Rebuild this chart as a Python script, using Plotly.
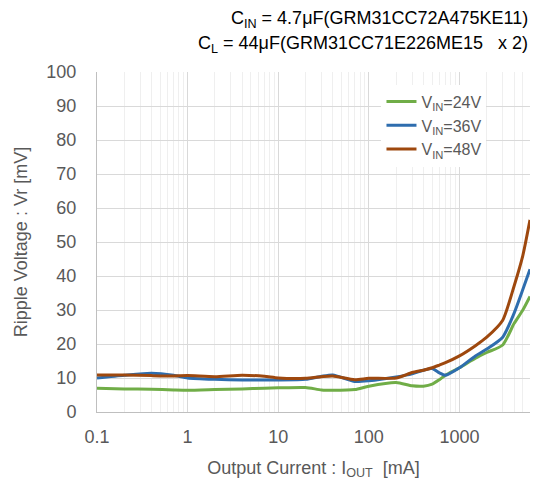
import plotly.graph_objects as go
import numpy as np

x_vals = [0.1, 0.2, 0.4, 0.7, 1, 2, 4, 7, 10, 20, 30, 40, 70, 100, 200, 300, 400, 500, 600, 700, 1000, 1500, 2000, 3000, 4000, 5000, 6000]
v24 = [7.0, 6.8, 6.7, 6.5, 6.4, 6.6, 6.8, 7.0, 7.1, 7.2, 6.5, 6.4, 6.6, 7.6, 8.7, 7.7, 7.6, 8.2, 9.5, 10.8, 13.0, 15.8, 17.5, 19.7, 26.0, 30.0, 34.0]
v36 = [10.0, 10.8, 11.4, 10.8, 10.0, 9.6, 9.4, 9.4, 9.4, 9.6, 10.5, 10.9, 9.0, 9.2, 10.3, 11.2, 12.3, 12.8, 11.5, 10.8, 13.0, 16.5, 18.5, 22.0, 29.0, 36.0, 42.0]
v48 = [10.9, 10.9, 10.7, 10.6, 10.7, 10.4, 10.8, 10.5, 10.0, 9.9, 10.4, 10.6, 9.5, 9.9, 10.0, 11.6, 12.3, 13.0, 13.8, 14.5, 16.5, 19.5, 22.0, 27.0, 37.0, 46.0, 56.5]

names = ["V<sub>IN</sub>=24V", "V<sub>IN</sub>=36V", "V<sub>IN</sub>=48V"]
colors = ["#70AD47", "#2E6DAE", "#9E480E"]

FONT = "Liberation Sans"
GRAY = "#595959"

fig = go.Figure()
for name, ys, c in zip(names, [v24, v36, v48], colors):
    fig.add_trace(go.Scatter(x=x_vals, y=ys, mode="lines", name=name,
                             line=dict(color=c, width=3, shape="spline", smoothing=0.6)))

fig.update_layout(
    width=533, height=478,
    margin=dict(l=89, r=11, t=64, b=74, autoexpand=False),
    paper_bgcolor="white", plot_bgcolor="white",
    font=dict(family=FONT, color=GRAY, size=18),
    showlegend=True,
    legend=dict(x=0.657, y=0.963, xanchor="left", yanchor="top",
                bgcolor="white", font=dict(family=FONT, size=16, color=GRAY),
                tracegroupgap=0, itemwidth=30),
    annotations=[
        dict(text="C<sub>IN</sub> = 4.7μF(GRM31CC72A475KE11)", xref="paper", yref="paper",
             x=1.0, y=1.0, yshift=53, xanchor="right", yanchor="middle", showarrow=False,
             font=dict(family=FONT, size=18, color="#000000")),
        dict(text="C<sub>L</sub> = 44μF(GRM31CC71E226ME15   x 2)", xref="paper", yref="paper",
             x=1.0, y=1.0, yshift=28, xanchor="right", yanchor="middle", showarrow=False,
             font=dict(family=FONT, size=18, color="#000000")),
    ],
)

fig.update_xaxes(
    type="log", range=[-1, np.log10(6000)], automargin=False,
    tickvals=[0.1, 1, 10, 100, 1000], ticktext=["0.1", "1", "10", "100", "1000"],
    showgrid=True, gridcolor="#D9D9D9", gridwidth=1,
    minor=dict(showgrid=True, gridcolor="#EFEFEF", gridwidth=1,
               tickvals=[a * b for b in [0.1, 1, 10, 100, 1000] for a in range(2, 10) if a * b <= 6000]),
    showline=True, linecolor="#BFBFBF", linewidth=1, mirror=False,
    ticks="", zeroline=False,
    title=dict(text="Output Current : I<sub>OUT</sub>  [mA]", font=dict(family=FONT, size=18, color=GRAY), standoff=15),
    tickfont=dict(family=FONT, size=18, color=GRAY),
    ticklabelstandoff=8,
)
fig.update_yaxes(
    range=[0, 100], dtick=10, automargin=False,
    showgrid=True, gridcolor="#D9D9D9", gridwidth=1,
    showline=True, linecolor="#BFBFBF", linewidth=1,
    ticks="", zeroline=False,
    title=dict(text="Ripple Voltage : Vr [mV]", font=dict(family=FONT, size=18, color=GRAY), standoff=14),
    tickfont=dict(family=FONT, size=18, color=GRAY),
    ticklabelstandoff=16,
)

fig.write_html("out.html")
